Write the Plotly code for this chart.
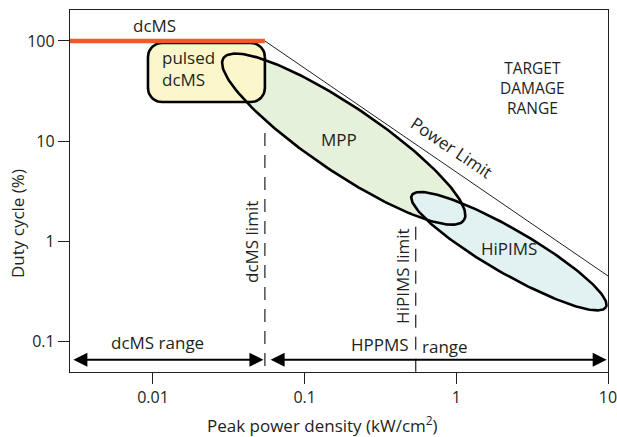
import numpy as np
import plotly.graph_objects as go

# ---- data ----
x_ticks = [0.01, 0.1, 1, 10]
x_tick_labels = ["0.01", "0.1", "1", "10"]
y_ticks = [0.1, 1, 10, 100]
y_tick_labels = ["0.1", "1", "10", "100"]

x_range_log = [-2.547, 1.0]
y_range_log = [-1.302, 2.309]

dcms_limit_x = 0.0547          # kW/cm2
hipims_limit_x = 0.54          # kW/cm2
dcms_duty = 100                # %
power_limit_x = [0.0547, 10]
power_limit_y = [100, 0.453]
dcms_limit_top = 12.1
hipims_limit_top = 1.4
arrow_y = 0.066
dcms_range_x = [0.00292, 0.0535]
hppms_range_x = [0.0583, 9.8]

# pulsed dcMS rounded box (data units)
pulsed_x = [0.00927, 0.0547]
pulsed_y = [24.6, 95.5]

# ellipses: centre (data), semi axes (px-equivalent), angle (deg)
mpp_center = (0.181, 10.5)
mpp_axes = (145, 33)
mpp_angle = 34
hip_center = (2.22, 0.80)
hip_axes = (112, 22)
hip_angle = 30

# ---- layout geometry ----
W, H = 617, 437
ml, mr, mt, mb = 70, 9, 10, 65
pw, ph = W - ml - mr, H - mt - mb
kx = pw / (x_range_log[1] - x_range_log[0])   # px per decade x
ky = ph / (y_range_log[1] - y_range_log[0])   # px per decade y

TXT = "#231f20"
FONT = "Open Sans"


def ellipse(center, axes, angle, n=200):
    t = np.linspace(0, 2 * np.pi, n)
    a, b = axes
    th = np.deg2rad(angle)
    u = a * np.cos(t) * np.cos(th) - b * np.sin(t) * np.sin(th)
    v = -(a * np.cos(t) * np.sin(th) + b * np.sin(t) * np.cos(th))
    lx = np.log10(center[0]) + u / kx
    ly = np.log10(center[1]) + v / ky
    return 10 ** lx, 10 ** ly


def rounded_rect(xs, ys, r=14, n=12):
    lx0, lx1 = np.log10(xs)
    ly0, ly1 = np.log10(ys)
    rx, ry = r / kx, r / ky
    pts_x, pts_y = [], []
    corners = [(lx1 - rx, ly1 - ry, 0), (lx0 + rx, ly1 - ry, 90),
               (lx0 + rx, ly0 + ry, 180), (lx1 - rx, ly0 + ry, 270)]
    for cx, cy, a0 in corners:
        ang = np.deg2rad(np.linspace(a0, a0 + 90, n))
        pts_x.extend(cx + rx * np.cos(ang))
        pts_y.extend(cy + ry * np.sin(ang))
    pts_x.append(pts_x[0]); pts_y.append(pts_y[0])
    return 10 ** np.array(pts_x), 10 ** np.array(pts_y)


fig = go.Figure()

mx, my = ellipse(mpp_center, mpp_axes, mpp_angle)
hx, hy = ellipse(hip_center, hip_axes, hip_angle)
rx_, ry_ = rounded_rect(pulsed_x, pulsed_y)

# fills
for xx, yy, col in [(mx, my, "#e6f1dc"), (hx, hy, "#e2f1f1"), (rx_, ry_, "#fbf7cb")]:
    fig.add_trace(go.Scatter(x=xx, y=yy, mode="lines", fill="toself", fillcolor=col,
                             line=dict(width=0), hoverinfo="skip", showlegend=False))

# power limit line
fig.add_trace(go.Scatter(x=power_limit_x, y=power_limit_y, mode="lines",
                         line=dict(color="#231f20", width=1), showlegend=False))

# dashed limits
for xv, top in [(dcms_limit_x, dcms_limit_top), (hipims_limit_x, hipims_limit_top)]:
    fig.add_trace(go.Scatter(x=[xv, xv], y=[top, 10 ** y_range_log[0]], mode="lines",
                             line=dict(color="#231f20", width=1.2, dash="13px,9px"),
                             showlegend=False))

# outlines
for xx, yy in [(mx, my), (hx, hy), (rx_, ry_)]:
    fig.add_trace(go.Scatter(x=xx, y=yy, mode="lines",
                             line=dict(color="#000000", width=2.6), showlegend=False))

# dcMS orange line
fig.add_trace(go.Scatter(x=[10 ** x_range_log[0], dcms_limit_x], y=[dcms_duty, dcms_duty],
                         mode="lines", line=dict(color="#f15a24", width=4.5), showlegend=False))

ann = []
# arrows
for xs in [dcms_range_x, hppms_range_x]:
    ann.append(dict(x=np.log10(xs[1]), y=np.log10(arrow_y), ax=np.log10(xs[0]), ay=np.log10(arrow_y),
                    xref="x", yref="y", axref="x", ayref="y", text="", showarrow=True,
                    arrowhead=2, startarrowhead=2, arrowside="end+start", arrowsize=1.4,
                    startarrowsize=1.4, arrowwidth=2, arrowcolor="#000000",
                    standoff=0, startstandoff=0))


def lab(text, lx, ly, angle=0, size=17, align="center"):
    ann.append(dict(x=lx, y=ly, xref="x", yref="y", text=text, showarrow=False,
                    textangle=angle, align=align, xanchor="center", yanchor="middle",
                    font=dict(family=FONT, size=size, color=TXT)))


lab("dcMS", -1.987, 2.159)
lab("pulsed<br>dcMS", -1.769, 1.730, align="left")
lab("MPP", -0.774, 1.022)
lab("Power Limit", -0.029, 0.942, angle=34)
lab("TARGET<br>DAMAGE<br>RANGE", 0.499, 1.531, size=15.5)
lab("HiPIMS", 0.347, -0.075)
lab("dcMS limit", -1.347, -0.005, angle=-90)
lab("HiPIMS limit", -0.352, -0.344, angle=-90)
lab("dcMS range", -1.967, -1.003)
lab("HPPMS", -0.503, -1.023)
lab("range", -0.075, -1.043)

ann.append(dict(x=(322 - ml) / pw, y=(mt + ph - 424) / ph, xref="paper", yref="paper",
                xanchor="center", yanchor="middle",
                text="Peak power density (kW/cm<sup>2</sup>)", showarrow=False,
                font=dict(family=FONT, size=17, color=TXT)))
ann.append(dict(x=(18 - ml) / pw, y=(mt + ph - 224) / ph, xref="paper", yref="paper",
                xanchor="center", yanchor="middle",
                text="Duty cycle (%)", textangle=-90, showarrow=False,
                font=dict(family=FONT, size=17, color=TXT)))

axis_common = dict(type="log", showgrid=False, zeroline=False, showline=True,
                   linecolor="#231f20", linewidth=1.3, mirror=True, ticks="outside",
                   ticklen=11, tickwidth=1.3, tickcolor="#231f20",
                   ticklabeloverflow="allow", automargin=False,
                   tickfont=dict(family=FONT, size=16, color=TXT))

fig.update_layout(
    width=W, height=H, margin=dict(l=ml, r=mr, t=mt, b=mb, autoexpand=False),
    paper_bgcolor="white", plot_bgcolor="white", showlegend=False,
    xaxis=dict(range=x_range_log, tickvals=x_ticks, ticktext=x_tick_labels, **axis_common),
    yaxis=dict(range=y_range_log, tickvals=y_ticks, ticktext=y_tick_labels, **axis_common),
    annotations=ann,
)

fig.write_html("out.html")
